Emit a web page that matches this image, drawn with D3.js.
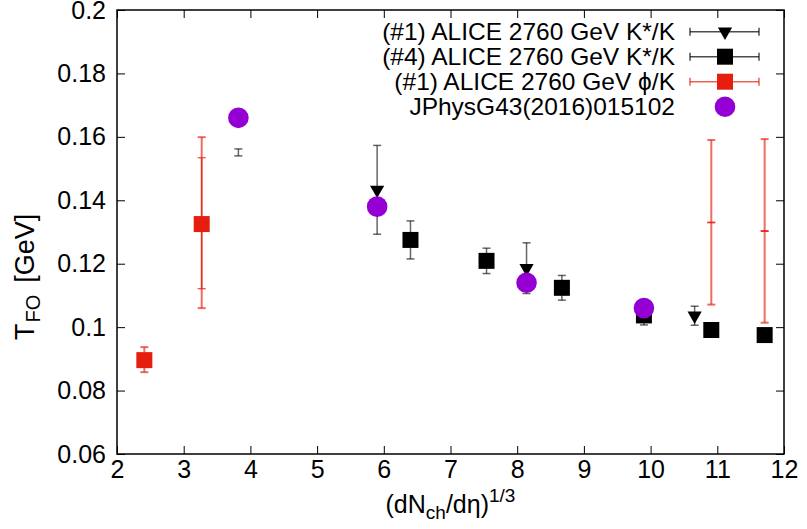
<!DOCTYPE html>
<html>
<head>
<meta charset="utf-8">
<script src="https://cdn.jsdelivr.net/npm/d3@7"></script>
<style>
  body { margin: 0; background: #fff; }
  text { font-family: "Liberation Sans", Arial, sans-serif; }
</style>
</head>
<body>
<div id="chart"></div>
<script>
// values
const xTicks = [2, 3, 4, 5, 6, 7, 8, 9, 10, 11, 12];
const yTicks = [0.06, 0.08, 0.1, 0.12, 0.14, 0.16, 0.18, 0.2];

// (#1) ALICE 2760 GeV K*/K  (triangles)
const kstar1 = [
  {x: 5.90, y: 0.1433, e: 0.0140},
  {x: 8.14, y: 0.1186, e: 0.0080},
  {x: 10.66, y: 0.1036, e: 0.0030}
];
// black error bar drawn without a marker
const kstarBarOnly = [
  {x: 3.82, y: 0.1551, e: 0.0011}
];
// (#4) ALICE 2760 GeV K*/K  (squares)
const kstar4 = [
  {x: 6.40, y: 0.1275, e: 0.0060},
  {x: 7.54, y: 0.1209, e: 0.0040},
  {x: 8.67, y: 0.1124, e: 0.0039},
  {x: 9.90, y: 0.1037, e: 0.0030},
  {x: 10.91, y: 0.0991, e: 0},
  {x: 11.71, y: 0.0975, e: 0}
];
// (#1) ALICE 2760 GeV phi/K  (red squares), lo/hi = outer bar, slo/shi = inner bar
const phiK = [
  {x: 2.41, y: 0.0896, lo: 0.0858, hi: 0.0937, slo: 0.0890, shi: 0.0902},
  {x: 3.27, y: 0.1325, lo: 0.1060, hi: 0.1599, slo: 0.1121, shi: 0.1534}
];
const phiKBarOnly = [
  {x: 10.91, y: 0.1330, lo: 0.1071, hi: 0.1590, slo: 0.1329, shi: 0.1331},
  {x: 11.71, y: 0.1303, lo: 0.1014, hi: 0.1593, slo: 0.1302, shi: 0.1304}
];
// JPhysG43(2016)015102  (circles)
const jphys = [
  {x: 3.82, y: 0.1660},
  {x: 5.90, y: 0.1380},
  {x: 8.14, y: 0.1140},
  {x: 9.90, y: 0.1060}
];
const legendLabels = [
  "(#1) ALICE 2760 GeV K*/K",
  "(#4) ALICE 2760 GeV K*/K",
  "(#1) ALICE 2760 GeV \u03d5/K",
  "JPhysG43(2016)015102"
];

const width = 807, height = 529;
const margin = {top: 10, right: 23, bottom: 75, left: 117};
const red = "#e51e10", violet = "#9400d3";
const fs = 25;

const svg = d3.select("#chart").append("svg")
  .attr("width", width)
  .attr("height", height);

const x = d3.scaleLinear().domain([2, 12]).range([margin.left, width - margin.right]);
const y = d3.scaleLinear().domain([0.06, 0.2]).range([height - margin.bottom, margin.top]);

// axes, ticks inward on all four sides
svg.append("g")
  .attr("transform", `translate(0,${y(0.06)})`)
  .call(d3.axisBottom(x).tickValues(xTicks).tickSize(-8).tickPadding(6).tickFormat(d => d));
svg.append("g")
  .attr("transform", `translate(0,${y(0.2)})`)
  .call(d3.axisTop(x).tickValues(xTicks).tickSize(-8).tickFormat(""));
svg.append("g")
  .attr("transform", `translate(${x(2)},0)`)
  .call(d3.axisLeft(y).tickValues(yTicks).tickSize(-8).tickPadding(11).tickFormat(d => +d.toFixed(2) + ""));
svg.append("g")
  .attr("transform", `translate(${x(12)},0)`)
  .call(d3.axisRight(y).tickValues(yTicks).tickSize(-8).tickFormat(""));

svg.selectAll(".domain").remove();
svg.selectAll(".tick line").attr("stroke", "#000").attr("stroke-width", 1);
svg.selectAll(".tick text")
  .attr("font-size", fs)
  .attr("font-family", "Liberation Sans, Arial, sans-serif")
  .attr("fill", "#000");

svg.append("rect")
  .attr("x", x(2)).attr("y", y(0.2))
  .attr("width", x(12) - x(2)).attr("height", y(0.06) - y(0.2))
  .attr("fill", "none").attr("stroke", "#000").attr("stroke-width", 1.5);

// error bar helper
function errBar(g, px, lo, hi, color, opacity, sw) {
  const cap = 4;
  g.append("line").attr("x1", px).attr("x2", px).attr("y1", lo).attr("y2", hi);
  g.append("line").attr("x1", px - cap).attr("x2", px + cap).attr("y1", lo).attr("y2", lo);
  g.append("line").attr("x1", px - cap).attr("x2", px + cap).attr("y1", hi).attr("y2", hi);
  g.selectAll("line").attr("stroke", color).attr("stroke-opacity", opacity).attr("stroke-width", sw);
}

const plot = svg.append("g");

// (#1) K*/K
kstar1.concat(kstarBarOnly).forEach(d => {
  errBar(plot.append("g"), x(d.x), y(d.y - d.e), y(d.y + d.e), "#000", 0.6, 1.5);
});
const tri = d3.symbol().type(d3.symbolTriangle).size(88);
plot.selectAll(".tri").data(kstar1).enter().append("path")
  .attr("d", tri)
  .attr("transform", d => `translate(${x(d.x)},${y(d.y)}) rotate(180)`)
  .attr("fill", "#000");

// (#4) K*/K
kstar4.filter(d => d.e > 0).forEach(d => {
  errBar(plot.append("g"), x(d.x), y(d.y - d.e), y(d.y + d.e), "#000", 0.6, 1.5);
});
plot.selectAll(".sq").data(kstar4).enter().append("rect")
  .attr("x", d => x(d.x) - 8).attr("y", d => y(d.y) - 8)
  .attr("width", 16).attr("height", 16)
  .attr("fill", "#000");

// phi/K
phiK.concat(phiKBarOnly).forEach(d => {
  errBar(plot.append("g"), x(d.x), y(d.lo), y(d.hi), red, 0.65, 2);
  errBar(plot.append("g"), x(d.x), y(d.slo), y(d.shi), red, 1, 1);
});
plot.selectAll(".rsq").data(phiK).enter().append("rect")
  .attr("x", d => x(d.x) - 8).attr("y", d => y(d.y) - 8)
  .attr("width", 16).attr("height", 16)
  .attr("fill", red);

// JPhysG
plot.selectAll(".circ").data(jphys).enter().append("circle")
  .attr("cx", d => x(d.x)).attr("cy", d => y(d.y))
  .attr("r", 10.3)
  .attr("fill", violet);

// legend
const leg = svg.append("g");
const rowY = i => 31.7 + i * 25;
legendLabels.forEach((t, i) => {
  leg.append("text")
    .attr("x", 675).attr("y", rowY(i) + 8.5)
    .attr("text-anchor", "end")
    .attr("font-size", 24.5)
    .text(t);
});
[0, 1, 2].forEach(i => {
  const c = i === 2 ? red : "#000";
  const g = leg.append("g");
  g.append("line").attr("x1", 690).attr("x2", 759).attr("y1", rowY(i)).attr("y2", rowY(i));
  g.append("line").attr("x1", 690).attr("x2", 690).attr("y1", rowY(i) - 4).attr("y2", rowY(i) + 4);
  g.append("line").attr("x1", 759).attr("x2", 759).attr("y1", rowY(i) - 4).attr("y2", rowY(i) + 4);
  g.selectAll("line").attr("stroke", c).attr("stroke-opacity", 0.7).attr("stroke-width", 1.5);
});
leg.append("path").attr("d", tri)
  .attr("transform", `translate(725,${rowY(0)}) rotate(180)`).attr("fill", "#000");
leg.append("rect").attr("x", 717).attr("y", rowY(1) - 8).attr("width", 16).attr("height", 16).attr("fill", "#000");
leg.append("rect").attr("x", 717).attr("y", rowY(2) - 8).attr("width", 16).attr("height", 16).attr("fill", red);
leg.append("circle").attr("cx", 725).attr("cy", rowY(3)).attr("r", 10.3).attr("fill", violet);

// axis titles
const xt = svg.append("text")
  .attr("x", (x(2) + x(12)) / 2).attr("y", 513)
  .attr("text-anchor", "middle")
  .attr("font-size", fs);
xt.append("tspan").text("(dN");
xt.append("tspan").attr("font-size", 19).attr("dy", 6).text("ch");
xt.append("tspan").attr("dy", -6).text("/d\u03b7)");
xt.append("tspan").attr("font-size", 19).attr("dy", -11).text("1/3");

const yt = svg.append("text")
  .attr("transform", "translate(34,340) rotate(-90)")
  .attr("text-anchor", "start")
  .attr("font-size", 27);
yt.append("tspan").text("T");
yt.append("tspan").attr("font-size", 20).attr("dy", 6).attr("dx", 1).text("FO");
yt.append("tspan").attr("dy", -6).attr("dx", 12).text("[GeV]");
</script>
</body>
</html>
